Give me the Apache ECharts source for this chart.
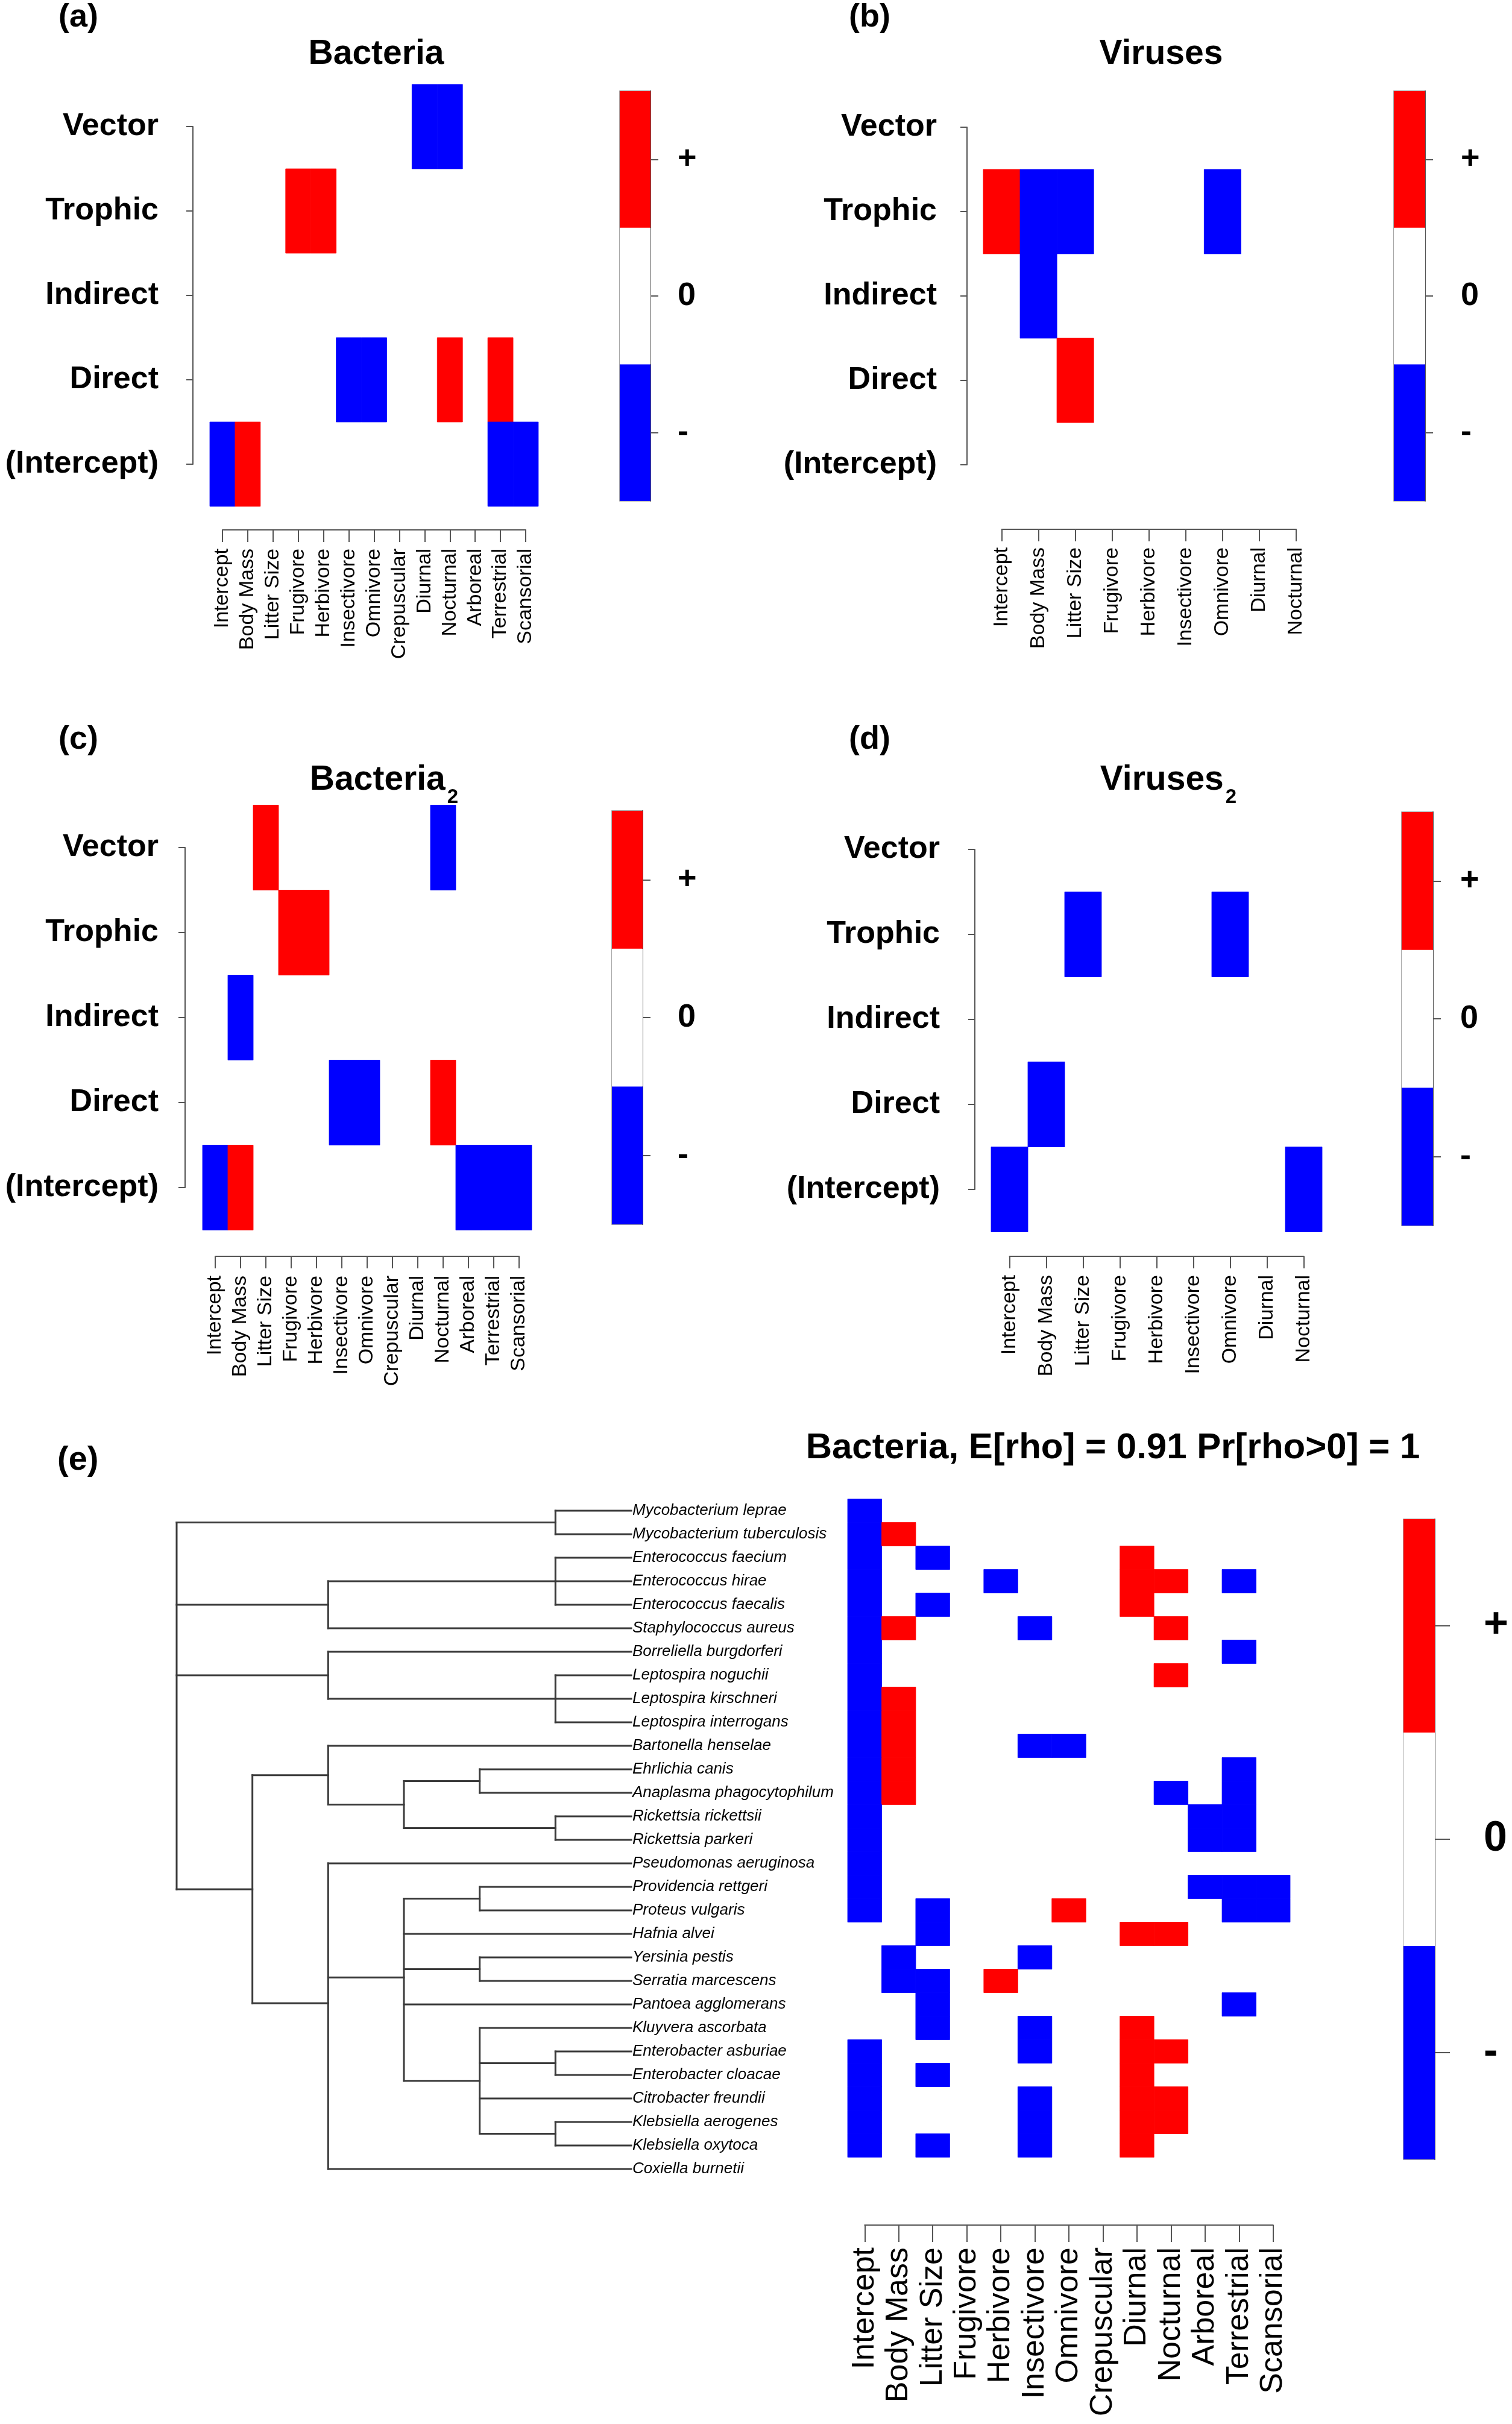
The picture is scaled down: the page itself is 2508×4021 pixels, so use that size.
<!DOCTYPE html>
<html>
<head>
<meta charset="utf-8">
<script src="https://cdn.jsdelivr.net/npm/echarts@6/dist/echarts.min.js"></script>
<style>html,body{margin:0;padding:0;background:#fff}#c{width:2508px;height:4021px}</style>
</head>
<body>
<div id="c"></div>
<script>
// ---------------- DATA ----------------
const routes = ['Vector', 'Trophic', 'Indirect', 'Direct', '(Intercept)']; // top -> bottom
const traitsBacteria = ['Intercept','Body Mass','Litter Size','Frugivore','Herbivore','Insectivore','Omnivore','Crepuscular','Diurnal','Nocturnal','Arboreal','Terrestrial','Scansorial'];
const traitsViruses = ['Intercept','Body Mass','Litter Size','Frugivore','Herbivore','Insectivore','Omnivore','Diurnal','Nocturnal'];
const legendLevels = [-1, 0, 1];
const legendTicks = ['-', '0', '+'];

// sign of effect: 1 = positive (red), -1 = negative (blue), 0 = none. rows follow `routes`
const bacteria = [
  [0,0,0,0,0,0,0,0,-1,-1,0,0,0],
  [0,0,0,1,1,0,0,0,0,0,0,0,0],
  [0,0,0,0,0,0,0,0,0,0,0,0,0],
  [0,0,0,0,0,-1,-1,0,0,1,0,1,0],
  [-1,1,0,0,0,0,0,0,0,0,0,-1,-1]
];
const viruses = [
  [0,0,0,0,0,0,0,0,0],
  [1,-1,-1,0,0,0,-1,0,0],
  [0,-1,0,0,0,0,0,0,0],
  [0,0,1,0,0,0,0,0,0],
  [0,0,0,0,0,0,0,0,0]
];
const bacteria2 = [
  [0,0,1,0,0,0,0,0,0,-1,0,0,0],
  [0,0,0,1,1,0,0,0,0,0,0,0,0],
  [0,-1,0,0,0,0,0,0,0,0,0,0,0],
  [0,0,0,0,0,-1,-1,0,0,1,0,0,0],
  [-1,1,0,0,0,0,0,0,0,0,-1,-1,-1]
];
const viruses2 = [
  [0,0,0,0,0,0,0,0,0],
  [0,0,-1,0,0,0,-1,0,0],
  [0,0,0,0,0,0,0,0,0],
  [0,-1,0,0,0,0,0,0,0],
  [-1,0,0,0,0,0,0,0,-1]
];

const speciesNames = [
  'Mycobacterium leprae','Mycobacterium tuberculosis','Enterococcus faecium','Enterococcus hirae',
  'Enterococcus faecalis','Staphylococcus aureus','Borreliella burgdorferi','Leptospira noguchii',
  'Leptospira kirschneri','Leptospira interrogans','Bartonella henselae','Ehrlichia canis',
  'Anaplasma phagocytophilum','Rickettsia rickettsii','Rickettsia parkeri','Pseudomonas aeruginosa',
  'Providencia rettgeri','Proteus vulgaris','Hafnia alvei','Yersinia pestis','Serratia marcescens',
  'Pantoea agglomerans','Kluyvera ascorbata','Enterobacter asburiae','Enterobacter cloacae',
  'Citrobacter freundii','Klebsiella aerogenes','Klebsiella oxytoca','Coxiella burnetii'
];
// species x trait signs (columns follow traitsBacteria)
const speciesTraits = [
  [-1,0,0,0,0,0,0,0,0,0,0,0,0],
  [-1,1,0,0,0,0,0,0,0,0,0,0,0],
  [-1,0,-1,0,0,0,0,0,1,0,0,0,0],
  [-1,0,0,0,-1,0,0,0,1,1,0,-1,0],
  [-1,0,-1,0,0,0,0,0,1,0,0,0,0],
  [-1,1,0,0,0,-1,0,0,0,1,0,0,0],
  [-1,0,0,0,0,0,0,0,0,0,0,-1,0],
  [-1,0,0,0,0,0,0,0,0,1,0,0,0],
  [-1,1,0,0,0,0,0,0,0,0,0,0,0],
  [-1,1,0,0,0,0,0,0,0,0,0,0,0],
  [-1,1,0,0,0,-1,-1,0,0,0,0,0,0],
  [-1,1,0,0,0,0,0,0,0,0,0,-1,0],
  [-1,1,0,0,0,0,0,0,0,-1,0,-1,0],
  [-1,0,0,0,0,0,0,0,0,0,-1,-1,0],
  [-1,0,0,0,0,0,0,0,0,0,-1,-1,0],
  [-1,0,0,0,0,0,0,0,0,0,0,0,0],
  [-1,0,0,0,0,0,0,0,0,0,-1,-1,-1],
  [-1,0,-1,0,0,0,1,0,0,0,0,-1,-1],
  [0,0,-1,0,0,0,0,0,1,1,0,0,0],
  [0,-1,0,0,0,-1,0,0,0,0,0,0,0],
  [0,-1,-1,0,1,0,0,0,0,0,0,0,0],
  [0,0,-1,0,0,0,0,0,0,0,0,-1,0],
  [0,0,-1,0,0,-1,0,0,1,0,0,0,0],
  [-1,0,0,0,0,-1,0,0,1,1,0,0,0],
  [-1,0,-1,0,0,0,0,0,1,0,0,0,0],
  [-1,0,0,0,0,-1,0,0,1,1,0,0,0],
  [-1,0,0,0,0,-1,0,0,1,1,0,0,0],
  [-1,0,-1,0,0,-1,0,0,1,0,0,0,0],
  [0,0,0,0,0,0,0,0,0,0,0,0,0]
];
// phylogeny: internal nodes with depth d (0 = root), tips at tipDepth
const tipDepth = 6;
const phylogeny = { d:0, c:[
  { d:5, c:['Mycobacterium leprae','Mycobacterium tuberculosis'] },
  { d:2, c:[ { d:5, c:['Enterococcus faecium','Enterococcus hirae','Enterococcus faecalis'] }, 'Staphylococcus aureus' ] },
  { d:2, c:[ 'Borreliella burgdorferi', { d:5, c:['Leptospira noguchii','Leptospira kirschneri','Leptospira interrogans'] } ] },
  { d:1, c:[
    { d:2, c:[ 'Bartonella henselae', { d:3, c:[ { d:4, c:['Ehrlichia canis','Anaplasma phagocytophilum'] }, { d:5, c:['Rickettsia rickettsii','Rickettsia parkeri'] } ] } ] },
    { d:2, c:[ 'Pseudomonas aeruginosa',
      { d:3, c:[ { d:4, c:['Providencia rettgeri','Proteus vulgaris'] }, 'Hafnia alvei',
                 { d:4, c:['Yersinia pestis','Serratia marcescens'] }, 'Pantoea agglomerans',
                 { d:4, c:[ 'Kluyvera ascorbata', { d:5, c:['Enterobacter asburiae','Enterobacter cloacae'] },
                            'Citrobacter freundii', { d:5, c:['Klebsiella aerogenes','Klebsiella oxytoca'] } ] } ] },
      'Coxiella burnetii' ] }
  ] }
]};

// ---------------- BUILD ----------------
const FONT = '"Liberation Sans", Arial, Helvetica, sans-serif';
const RED = '#FF0000', BLUE = '#0000FF', WHITE = '#FFFFFF';
const AX = '#555555';
const colorOf = v => v > 0 ? RED : (v < 0 ? BLUE : WHITE);

function cellData(matrix) {
  const out = [];
  matrix.forEach((row, r) => row.forEach((v, c) => { if (v !== 0) out.push([c, r, v]); }));
  return out;
}
function cellRender(params, api) {
  const v = api.value(2);
  const c = api.coord([api.value(0), api.value(1)]);
  const s = api.size([1, 1]);
  const col = colorOf(v);
  return { type: 'rect', shape: { x: c[0] - s[0] / 2, y: c[1] - s[1] / 2, width: s[0], height: s[1] },
           style: { fill: col, stroke: col, lineWidth: 0.8 } };
}
function segRender(params, api) {
  const p1 = api.coord([api.value(0), api.value(1)]);
  const p2 = api.coord([api.value(2), api.value(3)]);
  return { type: 'line', shape: { x1: p1[0], y1: p1[1], x2: p2[0], y2: p2[1] },
           style: { stroke: '#3a3a3a', lineWidth: 3, lineCap: 'square' } };
}
function treeSegments(node, segs) {
  if (typeof node === 'string') return { x: tipDepth, y: speciesNames.indexOf(node) };
  const kids = node.c.map(k => treeSegments(k, segs));
  const ys = kids.map(k => k.y);
  segs.push([node.d, Math.min(...ys), node.d, Math.max(...ys)]);
  kids.forEach(k => segs.push([node.d, k.y, k.x, k.y]));
  return { x: node.d, y: ys.reduce((a, b) => a + b, 0) / ys.length };
}

const grids = [], xAxes = [], yAxes = [], series = [];
const axLine = { show: true, onZero: false, lineStyle: { color: AX, width: 2 } };

function heatPanel(g, traits, matrix, o) {
  const idx = grids.length;
  grids.push({ left: g.l, top: g.t, width: g.w, height: g.h });
  xAxes.push({ type: 'value', gridIndex: idx, min: 0, max: traits.length - 1, interval: 1,
    position: 'bottom', offset: o.xOff, axisLine: axLine,
    axisTick: { show: true, length: o.xTick, lineStyle: { color: AX, width: 2 } },
    splitLine: { show: false },
    axisLabel: { rotate: 90, margin: o.xMargin, fontSize: o.xFont, fontFamily: FONT, color: '#000',
                 formatter: v => traits[v] ?? '' } });
  if (o.rows) {
    yAxes.push({ type: 'value', gridIndex: idx, min: 0, max: o.rows.length - 1, interval: 1, inverse: true,
      position: 'left', offset: o.yOff, axisLine: axLine,
      axisTick: { show: true, length: 11, lineStyle: { color: AX, width: 2 } },
      splitLine: { show: false },
      axisLabel: { margin: o.yMargin, fontSize: 52, fontWeight: 'bold', fontFamily: FONT, color: '#000',
                   formatter: v => o.rows[v] ?? '' } });
  } else {
    yAxes.push({ type: 'value', gridIndex: idx, min: 0, max: matrix.length - 1, interval: 1, inverse: true, show: false });
  }
  series.push({ type: 'custom', xAxisIndex: idx, yAxisIndex: idx, data: cellData(matrix),
    renderItem: cellRender, encode: { x: 0, y: 1 }, clip: false, silent: true });
}

function legendPanel(g, o) {
  const idx = grids.length;
  grids.push({ left: g.l, top: g.t, width: g.w, height: g.h, show: true, borderColor: '#8a8a8a', borderWidth: 1.5, backgroundColor: '#fff' });
  xAxes.push({ type: 'value', gridIndex: idx, min: 0, max: 1, show: false });
  yAxes.push({ type: 'category', gridIndex: idx, data: legendTicks, position: 'right', axisLine: axLine,
    axisTick: { show: true, alignWithLabel: true, length: o.tick, lineStyle: { color: AX, width: 2 } },
    axisLabel: { interval: 0, margin: o.margin, fontSize: o.font, fontWeight: 'bold', fontFamily: FONT, color: '#000' } });
  series.push({ type: 'bar', xAxisIndex: idx, yAxisIndex: idx, barWidth: '100%', silent: true,
    data: legendLevels.map(l => ({ value: 1, itemStyle: { color: colorOf(l) } })) });
}

// (a) Bacteria
heatPanel({ l: 369, t: 210, w: 503, h: 560 }, traitsBacteria, bacteria,
  { rows: routes, xOff: 109, xTick: 20, xMargin: 31, xFont: 34, yOff: 49, yMargin: 57 });
legendPanel({ l: 1028, t: 151, w: 51, h: 680 }, { tick: 13, margin: 45, font: 54 });
// (b) Viruses
heatPanel({ l: 1661.5, t: 211, w: 488.5, h: 560 }, traitsViruses, viruses,
  { rows: routes, xOff: 107, xTick: 20, xMargin: 30, xFont: 34, yOff: 57.5, yMargin: 50 });
legendPanel({ l: 2312, t: 151, w: 52, h: 680 }, { tick: 13, margin: 59, font: 54 });
// (c) Bacteria2
heatPanel({ l: 357, t: 1406, w: 504, h: 564 }, traitsBacteria, bacteria2,
  { rows: routes, xOff: 114, xTick: 20, xMargin: 32, xFont: 34, yOff: 50, yMargin: 44 });
legendPanel({ l: 1015, t: 1345, w: 51, h: 686 }, { tick: 13, margin: 58, font: 54 });
// (d) Viruses2
heatPanel({ l: 1674.5, t: 1409, w: 488, h: 564 }, traitsViruses, viruses2,
  { rows: routes, xOff: 111, xTick: 20, xMargin: 31, xFont: 34, yOff: 57.5, yMargin: 58 });
legendPanel({ l: 2325, t: 1347, w: 52, h: 686 }, { tick: 13, margin: 45, font: 54 });

// (e) phylogeny
const segments = [];
treeSegments(phylogeny, segments);
{
  const idx = grids.length;
  grids.push({ left: 293, top: 2506, width: 754, height: 1092 });
  xAxes.push({ type: 'value', gridIndex: idx, min: 0, max: tipDepth, show: false });
  yAxes.push({ type: 'value', gridIndex: idx, min: 0, max: speciesNames.length - 1, interval: 1, inverse: true,
    position: 'right', axisLine: { show: false, onZero: false }, axisTick: { show: false }, splitLine: { show: false },
    axisLabel: { margin: 2, fontSize: 26, fontStyle: 'italic', fontFamily: FONT, color: '#000', align: 'left',
                 formatter: v => speciesNames[v] ?? '' } });
  series.push({ type: 'custom', xAxisIndex: idx, yAxisIndex: idx, data: segments, renderItem: segRender,
    encode: { x: [0, 2], y: [1, 3] }, clip: false, silent: true });
}
// (e) heatmap
heatPanel({ l: 1434.25, t: 2506, w: 677.5, h: 1092 }, traitsBacteria, speciesTraits,
  { rows: null, xOff: 93, xTick: 28, xMargin: 37, xFont: 52 });
legendPanel({ l: 2328, t: 2520, w: 52, h: 1062 }, { tick: 25, margin: 81, font: 70 });

// ---------------- TEXT ----------------
function label(t, x, y, size) {
  return { type: 'text', x, y, silent: true, style: { text: t, fontSize: size, fontWeight: 'bold', fontFamily: FONT, fill: '#000', align: 'left', verticalAlign: 'middle' } };
}
function title(t, x, y, size) {
  return { type: 'text', x, y, silent: true, style: { text: t, fontSize: size, fontWeight: 'bold', fontFamily: FONT, fill: '#000', align: 'center', verticalAlign: 'middle' } };
}
function subTitle(main, sub, x, y) {
  return { type: 'text', x, y, silent: true, style: {
    text: '{m|' + main + '}{s|' + sub + '}', align: 'center', verticalAlign: 'middle', fill: '#000',
    rich: {
      m: { fontSize: 57, fontWeight: 'bold', fontFamily: FONT, fill: '#000', lineHeight: 62, verticalAlign: 'top' },
      s: { fontSize: 33, fontWeight: 'bold', fontFamily: FONT, fill: '#000', lineHeight: 36, padding: [40, 0, 0, 3], verticalAlign: 'top' }
    } } };
}

const graphic = [
  label('(a)', 97, 29, 54),
  label('(b)', 1408, 29, 54),
  label('(c)', 97, 1227, 54),
  label('(d)', 1408, 1227, 54),
  label('(e)', 95, 2423, 56),
  title('Bacteria', 624, 90, 57),
  title('Viruses', 1926, 90, 57),
  subTitle('Bacteria', '2', 637, 1297),
  subTitle('Viruses', '2', 1938, 1297),
  title('Bacteria, E[rho] = 0.91 Pr[rho>0] = 1', 1846, 2402, 60)
];

const chart = echarts.init(document.getElementById('c'), null, { renderer: 'canvas', width: 2508, height: 4021 });
chart.setOption({
  backgroundColor: '#ffffff',
  animation: false,
  grid: grids,
  xAxis: xAxes,
  yAxis: yAxes,
  series: series,
  graphic: graphic
});
</script>
</body>
</html>
